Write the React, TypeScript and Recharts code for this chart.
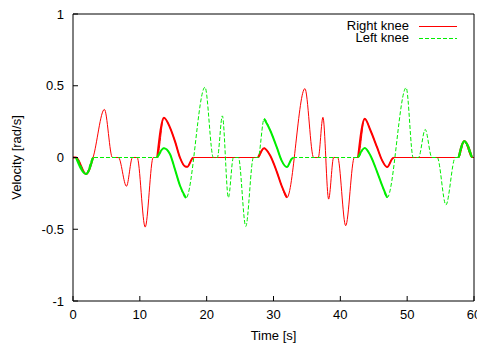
import { LineChart, Line, XAxis, YAxis, Legend } from "recharts";

// knee angular velocity
const rightKneeTime = [
  0, 0.45, 1.95, 3.0, 4.7, 5.9, 6.8, 8.0, 8.9, 9.6, 10.8, 12.0, 12.6, 13.6,
  14.5, 15.3, 16.0, 16.8, 17.1, 17.8, 18.0, 27.7, 28.6, 29.5, 30.5, 31.2, 32.0,
  34.7, 36.0, 36.7, 37.4, 38.25, 39.0, 39.6, 40.8, 42.1, 42.65, 43.65, 44.5,
  45.5, 46.25, 47.0, 47.75, 48.0, 57.7, 58.55, 59.7, 60,
];
const rightKneeVel = [
  0, 0, -0.115, 0, 0.335, 0, 0, -0.2, 0, 0, -0.485, 0, 0, 0.277, 0.21, 0.107,
  0.0, -0.063, -0.065, -0.01, 0, 0, 0.065, 0.014, -0.1, -0.195, -0.28, 0.48, 0,
  0, 0.28, -0.29, 0, 0, -0.475, 0, 0, 0.27, 0.19, 0.07, -0.02, -0.067, -0.01, 0,
  0, 0.113, 0, 0,
];

const leftKneeTime = [
  0, 0.45, 1.95, 3.0, 12.6, 13.6, 14.5, 15.3, 16.0, 16.9, 19.75, 21.0, 21.6,
  22.35, 23.25, 24.0, 24.75, 25.85, 27.0, 27.7, 28.6, 29.5, 30.5, 31.2, 32.0,
  32.7, 33.0, 42.65, 43.65, 44.5, 45.5, 46.25, 47.0, 49.85, 50.9, 51.7, 52.7,
  53.7, 54.5, 55.8, 57.2, 57.7, 58.55, 59.7, 60,
];
const leftKneeVel = [
  0, 0, -0.115, 0, 0, 0.065, 0.025, -0.09, -0.195, -0.283, 0.49, 0, 0, 0.29,
  -0.28, 0, 0, -0.48, 0, 0, 0.27, 0.19, 0.07, -0.02, -0.067, -0.01, 0, 0, 0.067,
  0.014, -0.1, -0.195, -0.28, 0.486, 0, 0, 0.195, 0, 0, -0.33, 0, 0, 0.113, 0, 0,
];

// stretches where gnuplot drew the curve densely (looks solid / heavier)
const rightDenseRanges = [[0, 3], [12.6, 18], [27.7, 32], [42.65, 48], [57.7, 59.7]];
const leftDenseRanges = [[0.45, 3], [12.6, 16.9], [28.6, 33], [42.65, 47], [57.7, 59.7]];

const seriesNames = ["Right knee", "Left knee"];
const xTicks = [0, 10, 20, 30, 40, 50, 60];
const yTicks = [-1, -0.5, 0, 0.5, 1];

const RED = "#ff0000";
const GREEN = "#00ee00";
const FONT = "Liberation Sans";

type Row = { t: number; right?: number; left?: number };

// one table on the union of sample times; missing samples stay undefined
const allTimes = Array.from(new Set([...rightKneeTime, ...leftKneeTime])).sort(
  (a, b) => a - b
);
const rows: Row[] = allTimes.map((t) => {
  const ri = rightKneeTime.indexOf(t);
  const li = leftKneeTime.indexOf(t);
  return {
    t,
    right: ri >= 0 ? rightKneeVel[ri] : undefined,
    left: li >= 0 ? leftKneeVel[li] : undefined,
  };
});

const within = (key: "right" | "left", [a, b]: number[]) => (d: Row) =>
  d.t >= a && d.t <= b && d[key] !== undefined ? d[key] : null;

function KneeLegend() {
  return (
    <div style={{ fontFamily: FONT, fontSize: 13, color: "#000" }}>
      {seriesNames.map((name, i) => (
        <div
          key={name}
          style={{
            display: "flex",
            alignItems: "center",
            justifyContent: "flex-end",
            height: 12,
            lineHeight: "12px",
          }}
        >
          <span>{name}</span>
          <svg width={38} height={12} style={{ marginLeft: 10 }}>
            <line
              x1={0}
              x2={38}
              y1={6.5}
              y2={6.5}
              stroke={i === 0 ? RED : GREEN}
              strokeWidth={1}
              strokeDasharray={i === 0 ? undefined : "4 2"}
            />
          </svg>
        </div>
      ))}
    </div>
  );
}

export default function App() {
  return (
    <div style={{ margin: "-8px 0 0 -8px", width: 485, height: 347 }}>
      <LineChart
        width={485}
        height={347}
        data={rows}
        margin={{ top: 9, right: 6, bottom: 16, left: 0 }}
        style={{ fontFamily: FONT, fontSize: 13 }}
      >
        <XAxis
          dataKey="t"
          type="number"
          domain={[0, 60]}
          ticks={xTicks}
          height={30}
          stroke="#000"
          tickSize={-5}
          tickMargin={14}
          label={{ value: "Time [s]", position: "bottom", offset: 0, fill: "#000" }}
        />
        <XAxis
          xAxisId="top"
          dataKey="t"
          orientation="top"
          type="number"
          domain={[0, 60]}
          ticks={xTicks}
          allowDataOverflow
          height={5}
          stroke="#000"
          tickSize={-5}
          tick={false}
        />
        <YAxis
          type="number"
          domain={[-1, 1]}
          ticks={yTicks}
          width={73}
          stroke="#000"
          tickSize={-5}
          tickMargin={14}
          label={{
            value: "Velocity [rad/s]",
            angle: -90,
            position: "center",
            dx: -20,
            fill: "#000",
          }}
        />
        <YAxis
          yAxisId="right"
          orientation="right"
          type="number"
          domain={[-1, 1]}
          ticks={yTicks}
          allowDataOverflow
          width={5}
          stroke="#000"
          tickSize={-5}
          tick={false}
        />
        <Legend
          layout="vertical"
          align="center"
          verticalAlign="middle"
          content={() => <KneeLegend />}
          wrapperStyle={{ top: 20, right: 28, left: "auto", width: "auto" }}
        />

        <Line
          dataKey="right"
          name={seriesNames[0]}
          type="monotone"
          connectNulls
          stroke={RED}
          strokeWidth={1}
          dot={false}
          activeDot={false}
          isAnimationActive={false}
        />
        {rightDenseRanges.map((r, i) => (
          <Line
            key={"rd" + i}
            dataKey={within("right", r)}
            legendType="none"
            type="monotone"
            connectNulls
            stroke={RED}
            strokeWidth={2}
            dot={false}
            activeDot={false}
            isAnimationActive={false}
          />
        ))}
        <Line
          dataKey="left"
          name={seriesNames[1]}
          type="monotone"
          connectNulls
          stroke={GREEN}
          strokeWidth={1}
          strokeDasharray="4 2"
          dot={false}
          activeDot={false}
          isAnimationActive={false}
        />
        {leftDenseRanges.map((r, i) => (
          <Line
            key={"ld" + i}
            dataKey={within("left", r)}
            legendType="none"
            type="monotone"
            connectNulls
            stroke={GREEN}
            strokeWidth={2}
            dot={false}
            activeDot={false}
            isAnimationActive={false}
          />
        ))}
      </LineChart>
    </div>
  );
}
